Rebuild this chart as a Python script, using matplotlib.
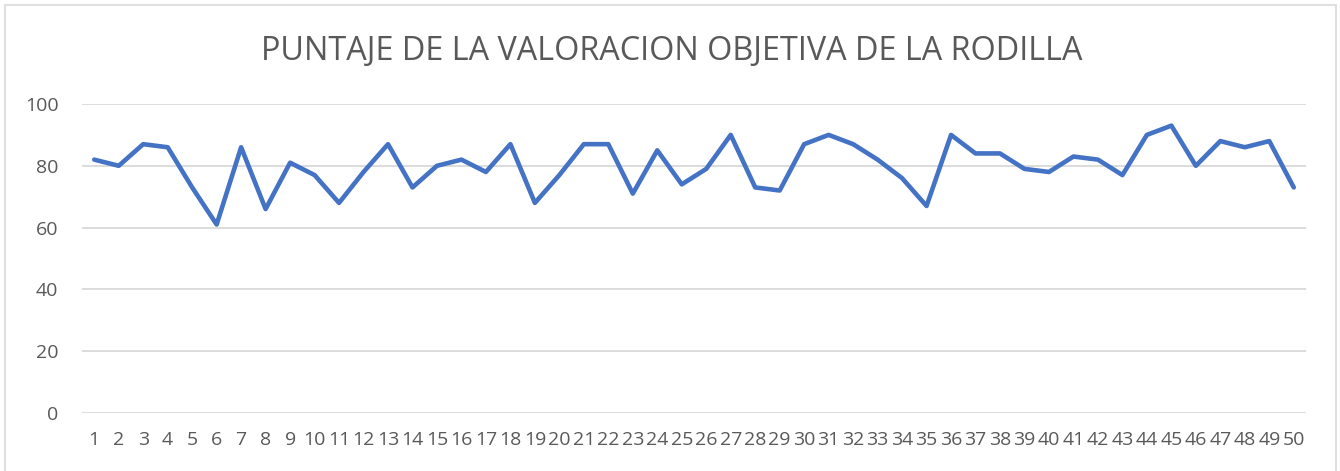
import matplotlib
matplotlib.use("Agg")
import matplotlib.pyplot as plt
from matplotlib.patches import Rectangle

categories = [str(i) for i in range(1, 51)]
scores = [82, 80, 87, 86, 73, 61, 86, 66, 81, 77,
          68, 78, 87, 73, 80, 82, 78, 87, 68, 77,
          87, 87, 71, 85, 74, 79, 90, 73, 72, 87,
          90, 87, 82, 76, 67, 90, 84, 84, 79, 78,
          83, 82, 77, 90, 93, 80, 88, 86, 88, 73]
y_ticks = [0, 20, 40, 60, 80, 100]
title = "PUNTAJE DE LA VALORACION OBJETIVA DE LA RODILLA"

W, H = 1340, 471
plt.rcParams['font.family'] = ['Open Sans', 'DejaVu Sans']
fig = plt.figure(figsize=(W / 100, H / 100), dpi=100)
ax = fig.add_axes([82 / W, 58 / H, (1306 - 82) / W, (413 - 104) / H])

x = list(range(1, len(categories) + 1))
ax.plot(x, scores, color='#4472C4', lw=3.3, solid_joinstyle='round', solid_capstyle='round', zorder=3)
ax.set_xlim(0.5, len(categories) + 0.5)
ax.set_ylim(0, 100)
ax.set_yticks(y_ticks)
ax.set_xticks(x)
ax.set_xticklabels(categories)
ax.grid(axis='y', color='#D9D9D9', lw=1.3)
ax.set_axisbelow(True)
for s in ax.spines.values():
    s.set_visible(False)
ax.tick_params(axis='both', length=0, labelsize=14, labelcolor='#595959')
ax.tick_params(axis='x', pad=13)
ax.tick_params(axis='y', pad=17)

t = fig.text(0.5 * (260 + 1083) / W, 1 - 52 / H, title, ha='center', va='center',
             fontsize=20, color='#595959')
fig.canvas.draw()
r = fig.canvas.get_renderer()
wpx = t.get_window_extent(r).width
t.set_fontsize(20 * 823 / wpx)

fig.patches.append(Rectangle((5 / W, -0.01), (1336 - 5) / W, 1 - 5 / H + 0.01,
                             transform=fig.transFigure, fill=False,
                             edgecolor='#D9D9D9', lw=1.2))
fig.savefig('out.png', dpi=100)
